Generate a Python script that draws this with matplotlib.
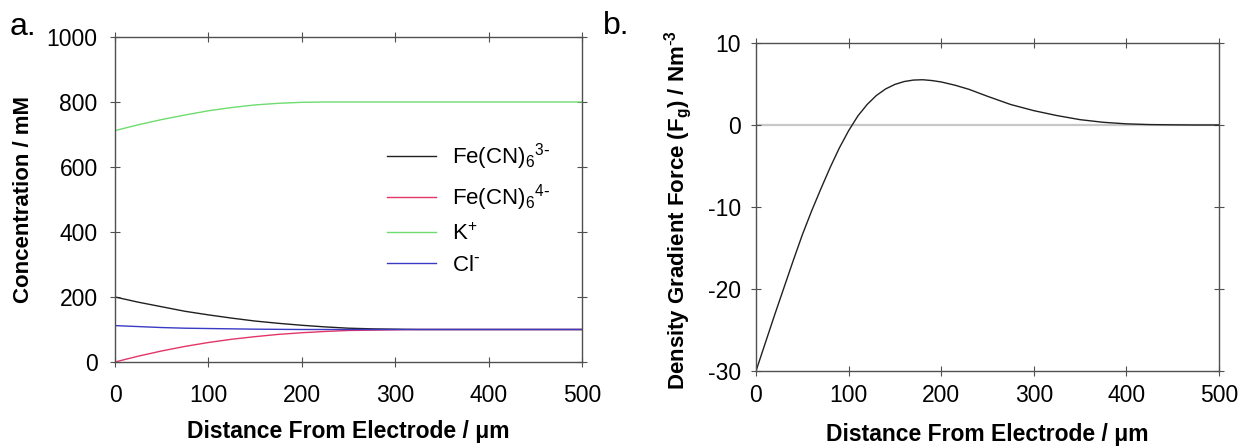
import matplotlib
matplotlib.use("Agg")
import matplotlib.pyplot as plt

plt.rcParams['font.family'] = ['Liberation Sans', 'DejaVu Sans']
plt.rcParams['mathtext.default'] = 'regular'
plt.rcParams['axes.unicode_minus'] = False

# Panel a data
dist_a = [0, 25, 50, 75, 100, 125, 150, 175, 200, 225, 250, 275, 300, 325, 350, 375, 400, 425, 450, 475, 500]
fe3 = [200, 184, 170, 156, 145, 135, 126, 119, 113, 108, 104, 102, 101, 100, 100, 100, 100, 100, 100, 100, 100]
fe4 = [0, 18, 34, 48, 60, 70, 78, 85, 90, 94, 97, 98, 99, 100, 100, 100, 100, 100, 100, 100, 100]
k_plus = [712, 730, 746, 760, 773, 783, 791, 796, 799, 800, 800, 800, 800, 800, 800, 800, 800, 800, 800, 800, 800]
cl_minus = [112, 109, 106, 104, 103, 102, 101, 100.5, 100, 100, 100, 100, 100, 100, 100, 100, 100, 100, 100, 100, 100]
labels_a = [r'Fe(CN)$_6$$^{3\text{-}}$', r'Fe(CN)$_6$$^{4\text{-}}$', r'K$^{+}$', r'Cl$^{\text{-}}$']

# Panel b data
dist_b = [0, 10, 20, 30, 40, 50, 60, 70, 80, 90, 100, 110, 120, 130, 140, 150, 160, 170, 180, 190, 200,
          215, 230, 250, 275, 300, 325, 350, 375, 400, 425, 450, 475, 500]
force = [-30, -26.6, -23.2, -19.9, -16.6, -13.4, -10.5, -7.8, -5.2, -2.8, -0.7, 1.1, 2.5, 3.6, 4.4,
         4.95, 5.3, 5.48, 5.52, 5.42, 5.25, 4.85, 4.35, 3.5, 2.5, 1.75, 1.15, 0.65, 0.33, 0.14, 0.05, 0.02, 0.0, 0.0]

fig = plt.figure(figsize=(12.41, 4.48), dpi=100)
ax1 = fig.add_axes([115/1241, 1-362/448, (582-115)/1241, (362-37)/448])
ax2 = fig.add_axes([756/1241, 1-371/448, (1219-756)/1241, (371-43)/448])

colors = ['#202020', '#e33566', '#6edc6e', '#3a3ac4']
for y, c, lab in zip([fe3, fe4, k_plus, cl_minus], colors, labels_a):
    ax1.plot(dist_a, y, color=c, lw=1.0, label=lab)

ax1.set_xlim(0, 500)
ax1.set_ylim(0, 1000)
ax1.set_xticks([0, 100, 200, 300, 400, 500])
ax1.set_yticks([0, 200, 400, 600, 800, 1000])
ax1.set_xlabel('Distance From Electrode / μm', fontsize=16.5, fontweight='bold', va='center')
ax1.xaxis.set_label_coords(0.5, -0.215)
ax1.set_ylabel('Concentration / mM', fontsize=16, fontweight='bold', va='center')
ax1.yaxis.set_label_coords(-0.195, 0.5)
leg = ax1.legend(loc='upper left', bbox_to_anchor=(0.54, 0.74), frameon=False, fontsize=16,
                 handlelength=2.2, labelspacing=0.45, handletextpad=0.7)

ax2.axhline(0, color='#c8c8c8', lw=1.6, zorder=1)
ax2.plot(dist_b, force, color='#202020', lw=1.0, zorder=2)
ax2.set_xlim(0, 500)
ax2.set_ylim(-30, 10)
ax2.set_xticks([0, 100, 200, 300, 400, 500])
ax2.set_yticks([-30, -20, -10, 0, 10])
ax2.set_xlabel('Distance From Electrode / μm', fontsize=16.5, fontweight='bold', va='center')
ax2.xaxis.set_label_coords(0.5, -0.195)
ax2.set_ylabel(r'Density Gradient Force (F$_g$) / Nm$^{\text{-}3}$', fontsize=16, fontweight='bold', va='center')
ax2.yaxis.set_label_coords(-0.168, 0.49)

for ax, xpad, ypad in ((ax1, 12, 9), (ax2, 6, 7.5)):
    for s in ax.spines.values():
        s.set_color('#505050')
        s.set_linewidth(1.0)
    ax.tick_params(axis='both', which='major', labelsize=16.5, direction='inout', length=7,
                   color='#505050', top=True, right=True)
    ax.tick_params(axis='x', pad=xpad)
    ax.tick_params(axis='y', pad=ypad)

fig.text(10/1241, 1-35/448, 'a.', fontsize=23)
fig.text(603/1241, 1-34/448, 'b.', fontsize=23)

fig.savefig('out.png', dpi=100)
